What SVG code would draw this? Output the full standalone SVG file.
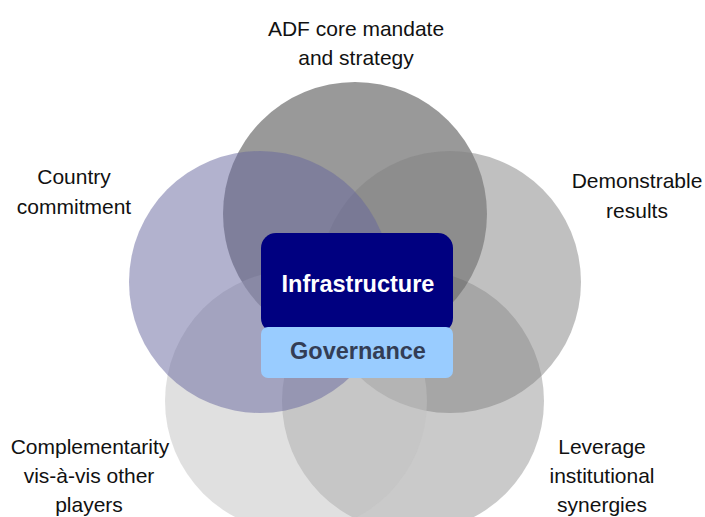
<svg xmlns="http://www.w3.org/2000/svg" width="705" height="517" viewBox="0 0 705 517">
  <style>
    .lbl { font-family: "Liberation Sans", Arial, sans-serif; font-size: 21px; fill: #111111; text-anchor: middle; }
    .circ { fill-opacity: 0.5; stroke: none; }
    .core { font-family: "Liberation Sans", Arial, sans-serif; font-size: 23.5px; font-weight: bold; text-anchor: middle; }
  </style>
  <rect width="705" height="517" fill="#ffffff"/>
  <g id="connectors"></g>
  <g id="leverage">
    <circle class="circ" cx="413" cy="401" r="131" fill="#959595"/>
    <text class="lbl" x="602" y="454">Leverage</text>
    <text class="lbl" x="602" y="483">institutional</text>
    <text class="lbl" x="602" y="512">synergies</text>
  </g>
  <g id="adf-core">
    <circle class="circ" cx="355" cy="214" r="132" fill="#333333"/>
    <text class="lbl" x="356" y="36">ADF core mandate</text>
    <text class="lbl" x="356" y="65">and strategy</text>
  </g>
  <g id="demonstrable">
    <circle class="circ" cx="450" cy="282" r="131" fill="#818181"/>
    <text class="lbl" x="637" y="188">Demonstrable</text>
    <text class="lbl" x="637" y="218">results</text>
  </g>
  <g id="complementarity">
    <circle class="circ" cx="296" cy="401" r="131" fill="#c1c1c1"/>
    <text class="lbl" x="90" y="454">Complementarity</text>
    <text class="lbl" x="89" y="483">vis-à-vis other</text>
    <text class="lbl" x="89" y="512">players</text>
  </g>
  <g id="country">
    <circle class="circ" cx="260" cy="282" r="131" fill="#65659d"/>
    <text class="lbl" x="74" y="184">Country</text>
    <text class="lbl" x="74" y="214">commitment</text>
  </g>
  <g id="infrastructure">
    <rect x="261" y="233" width="192" height="100" rx="15" ry="15" fill="#000080"/>
    <text class="core" x="358" y="292" fill="#ffffff">Infrastructure</text>
  </g>
  <g id="governance">
    <rect x="261" y="327" width="192" height="51" rx="7" ry="7" fill="#99ccff"/>
    <text class="core" x="358" y="359" fill="#333d55">Governance</text>
  </g>
</svg>
